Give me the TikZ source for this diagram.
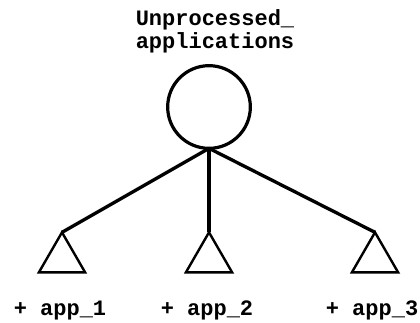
\documentclass[tikz,border=0pt]{standalone}
\usepackage{fontspec}
\setmonofont{Liberation Mono}
\usetikzlibrary{shapes.geometric}
\begin{document}
\begin{tikzpicture}[x=.75pt,y=-.75pt,
    lbl/.style={font=\fontsize{16.5}{17.3}\selectfont\ttfamily\bfseries,inner sep=0pt},
    root/.style={circle,draw,line width=2.4pt,minimum size=62pt,inner sep=0pt,outer sep=0pt},
    leaf/.style={regular polygon,regular polygon sides=3,draw,line width=1.8pt,minimum size=40pt,inner sep=0pt,outer sep=0pt},
    edge/.style={line width=2.5pt}]
\useasboundingbox (0,0) rectangle (420,322);
\node[lbl,align=center] (title) at (215,31) {Unprocessed\_\\applications};
\node[root] (pool) at (209,107) {};
\node[leaf] (app1) at (62,259) {};
\node[leaf] (app2) at (209,259) {};
\node[leaf] (app3) at (375,259) {};
\draw[edge] (pool.south) -- (app1.north);
\draw[edge] (pool.south) -- (app2.north);
\draw[edge] (pool.south) -- (app3.north);
\node[lbl,anchor=base] (name1) at (60,315) {+ app\_1};
\node[lbl,anchor=base] (name2) at (207,315) {+ app\_2};
\node[lbl,anchor=base] (name3) at (372,315) {+ app\_3};
\end{tikzpicture}
\end{document}
